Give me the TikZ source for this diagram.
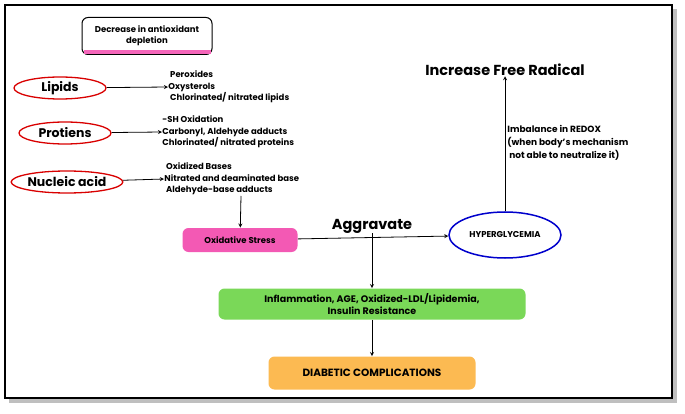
\documentclass[tikz,border=0pt]{standalone}
\usepackage{fontspec}
\setmainfont{Poppins}[BoldFont={* Bold}]
\usetikzlibrary{arrows,shapes.geometric,positioning}
\definecolor{leaf}{RGB}{122,216,88}
\definecolor{peach}{RGB}{252,186,82}

\tikzset{
  src/.style={ellipse,draw=red!85!black,line width=1.3pt,minimum width=92pt,minimum height=22pt,inner sep=0pt,font=\fontsize{12.5}{12}\selectfont\bfseries},
  lst/.style={align=left,anchor=west,inner sep=0pt,font=\fontsize{8.5}{11.5}\selectfont\bfseries},
  box/.style={rounded corners=6pt,align=center,inner sep=0pt,font=\fontsize{8.5}{11}\selectfont\bfseries},
  big/.style={font=\fontsize{14.5}{14}\selectfont\bfseries,inner sep=0pt}
}

\begin{document}
\begin{tikzpicture}[x=1pt,y=-1pt,->,>=stealth,line width=0.8pt]
  \useasboundingbox (0,0) rectangle (685,414);
  % frame
  \fill[black!25] (9,9) rectangle (677,403);
  \draw[-,line width=2.5pt,fill=white] (5,5) rectangle (672,398);

  \node [box,draw,line width=1pt,minimum width=130pt,minimum height=37pt] (dec) at (147,36) {Decrease in antioxidant\\depletion};
  \fill[magenta!60] ([xshift=2pt,yshift=5pt]dec.south west) rectangle ([xshift=-2pt,yshift=1pt]dec.south east);

  \node [src] (lip) at (60,88) {Lipids};
  \node [src] (pro) at (65,133) {Protiens};
  \node [src,minimum width=100pt] (nuc) at (67,182) {Nucleic acid};

  \node [lst] (lipl) at (168,87) {~Peroxides\\Oxysterols\\~Chlorinated/ nitrated lipids};
  \node [lst] (prol) at (162,132) {-SH Oxidation\\Carbonyl, Aldehyde adducts\\Chlorinated/ nitrated proteins};
  \node [lst] (nucl) at (164,179) {~Oxidized Bases\\Nitrated and deaminated base\\~Aldehyde-base adducts};

  \node [box,fill=magenta!65,minimum width=115pt,minimum height=24pt] (ox) at (240,240) {Oxidative Stress};
  \node [ellipse,draw=blue!80!black,line width=1.5pt,minimum width=112pt,minimum height=46pt,inner sep=0pt,font=\fontsize{8.5}{9}\selectfont\bfseries] (hyp) at (505,235) {HYPERGLYCEMIA};
  \node [big] (agg) at (372,226) {Aggravate};
  \node [box,fill=leaf,minimum width=307pt,minimum height=31pt,font=\fontsize{9.5}{12}\selectfont\bfseries] (inf) at (372,304) {Inflammation, AGE, Oxidized-LDL/Lipidemia,\\Insulin Resistance};
  \node [box,fill=peach,minimum width=207pt,minimum height=33pt,font=\fontsize{10.5}{11}\selectfont\bfseries] (dia) at (372,373) {DIABETIC COMPLICATIONS};
  \node [big] (frf) at (505,70) {Increase Free Radical};
  \node [lst,font=\fontsize{9}{13}\selectfont\bfseries] (imb) at (507,143) {Imbalance in REDOX\\(when body's mechanism\\~not able to neutralize it)};

  \draw (lip) -- (lipl.west);
  \draw (pro) -- (prol.west);
  \draw (nuc) -- (nucl.west);
  \draw (241,196) -- (ox);
  \draw (ox) -- (hyp);
  \draw (agg) -- (inf);
  \draw (inf) -- (dia);
  \draw (hyp) -- (frf);
\end{tikzpicture}
\end{document}
